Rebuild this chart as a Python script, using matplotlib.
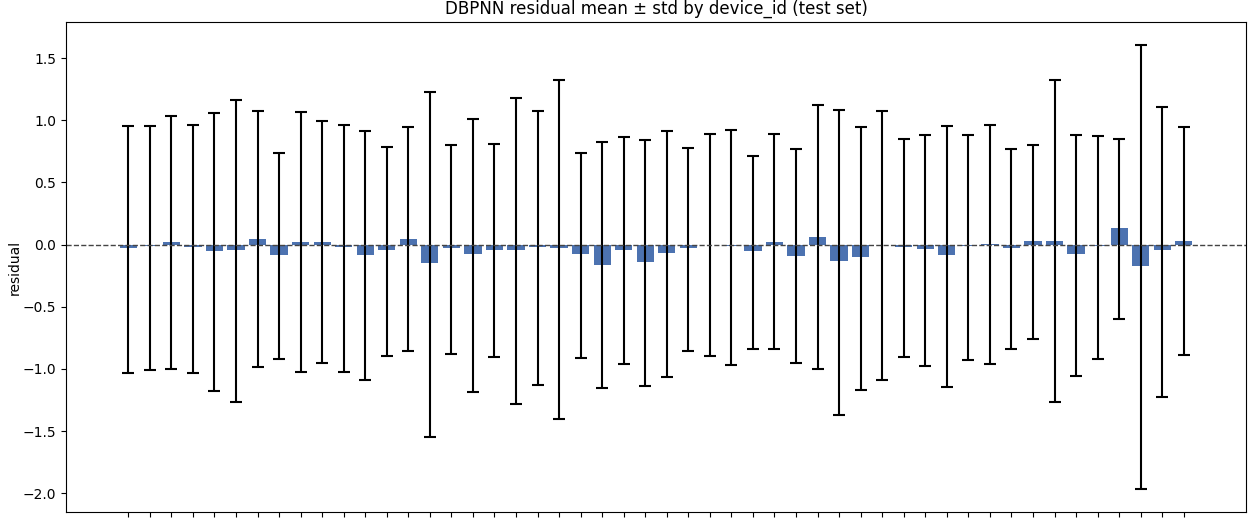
import matplotlib
matplotlib.use("Agg")
import matplotlib.pyplot as plt
import numpy as np

device_ids = [f"dev_{i:02d}" for i in range(50)]

mean_resid = [-0.030, -0.015, 0.025, -0.022, -0.050, -0.045, 0.045, -0.083, 0.024, 0.024,
              -0.022, -0.083, -0.045, 0.045, -0.145, -0.030, -0.072, -0.040, -0.040, -0.022,
              -0.030, -0.072, -0.160, -0.040, -0.137, -0.067, -0.030, -0.004, -0.013, -0.052,
              0.024, -0.088, 0.058, -0.130, -0.100, -0.003, -0.020, -0.037, -0.083, -0.013,
              0.005, -0.030, 0.030, 0.030, -0.072, -0.010, 0.130, -0.175, -0.045, 0.030]

upper_end = [0.955, 0.955, 1.035, 0.960, 1.057, 1.164, 1.073, 0.736, 1.065, 0.993,
             0.960, 0.917, 0.781, 0.942, 1.230, 0.803, 1.011, 0.810, 1.180, 1.075,
             1.324, 0.738, 0.824, 0.869, 0.840, 0.915, 0.776, 0.891, 0.923, 0.709,
             0.891, 0.770, 1.124, 1.086, 0.942, 1.075, 0.848, 0.883, 0.955, 0.883,
             0.960, 0.768, 0.803, 1.324, 0.883, 0.875, 0.853, 1.608, 1.107, 0.942]

lower_end = [-1.033, -1.011, -0.998, -1.033, -1.180, -1.265, -0.982, -0.918, -1.025, -0.953,
             -1.025, -1.092, -0.893, -0.859, -1.547, -0.877, -1.182, -0.902, -1.279, -1.126,
             -1.402, -0.910, -1.156, -0.958, -1.134, -1.062, -0.859, -0.893, -0.968, -0.837,
             -0.843, -0.953, -1.003, -1.372, -1.172, -1.092, -0.902, -0.974, -1.142, -0.931,
             -0.958, -0.843, -0.757, -1.265, -1.054, -0.918, -0.597, -1.969, -1.223, -0.885]

std_resid = [(u - l) / 2 for u, l in zip(upper_end, lower_end)]
center = [(u + l) / 2 for u, l in zip(upper_end, lower_end)]

fig = plt.figure(figsize=(12.48, 5.18), dpi=100)
ax = fig.add_axes([0.0529, 0.0116, 0.9455, 0.9459])

x = np.arange(len(device_ids))
ax.bar(x, mean_resid, width=0.8, color="#4C72B0")
ax.errorbar(x, center, yerr=std_resid, fmt="none", ecolor="black",
            elinewidth=1.5, capsize=4, capthick=1.5)
ax.axhline(0, color="#444444", linestyle="--", linewidth=1.0)

ax.set_xticks(x)
ax.set_xticklabels([""] * len(device_ids))
ax.set_yticks([-2.0, -1.5, -1.0, -0.5, 0.0, 0.5, 1.0, 1.5])
ax.set_xlim(-2.89, 51.89)
ax.set_ylim(-2.15, 1.79)
ax.set_ylabel("residual", labelpad=0.5)
ax.set_title("DBPNN residual mean ± std by device_id (test set)")

fig.savefig("out.png", dpi=100)
